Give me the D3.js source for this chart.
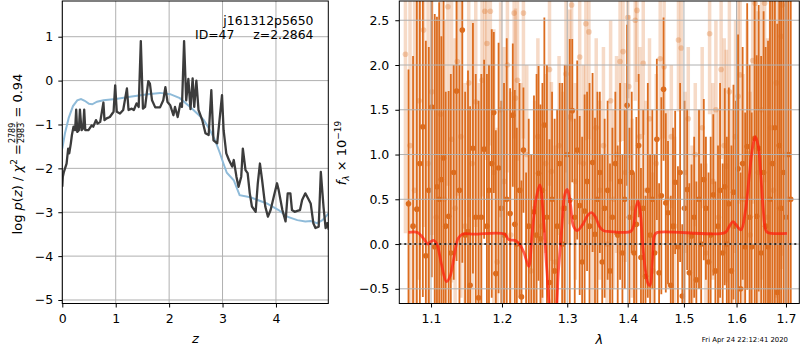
<!DOCTYPE html>
<html>
<head>
<meta charset="utf-8">
<script src="https://cdnjs.cloudflare.com/ajax/libs/d3/7.8.5/d3.min.js"></script>
<style>
  body { margin: 0; background: #fff; }
  svg { font-family: 'DejaVu Sans', sans-serif; }
</style>
</head>
<body>
<div id="chart"></div>
<script>
// ---- p(z) panel ----
var pzZ   = [0.0,0.01,0.03,0.08,0.11,0.13,0.16,0.18,0.21,0.24,0.26,0.28,0.31,0.33,0.36,0.39,0.41,0.43,0.49,0.55,0.58,0.63,0.66,0.71,0.77,0.79,0.83,0.89,0.96,0.99,1.02,1.08,1.14,1.21,1.24,1.30,1.34,1.39,1.43,1.47,1.51,1.55,1.61,1.64,1.68,1.74,1.83,1.89,1.93,1.97,2.02,2.08,2.11,2.16,2.21,2.24,2.28,2.32,2.36,2.40,2.44,2.47,2.51,2.55,2.62,2.68,2.74,2.79,2.83,2.90,2.99,3.02,3.07,3.12,3.18,3.21,3.26,3.30,3.35,3.38,3.43,3.47,3.51,3.55,3.62,3.66,3.70,3.74,3.80,3.85,3.90,3.96,4.02,4.05,4.12,4.18,4.22,4.27,4.30,4.35,4.40,4.45,4.49,4.55,4.60,4.65,4.70,4.74,4.80,4.84,4.89,4.93,4.96,4.99];
var pzLog = [-2.42,-2.19,-2.08,-1.89,-1.55,-1.66,-1.43,-1.24,-1.05,-1.13,-0.66,-1.17,-1.13,-0.66,-1.13,-1.09,-0.66,-1.13,-1.13,-1.02,-1.05,-0.9,-0.98,-0.94,-0.5,-0.9,-0.86,-0.83,-0.71,-0.11,-0.71,-0.75,-0.67,-0.18,-0.67,-0.64,-0.67,-0.52,-0.6,0.9,-0.64,-0.6,-0.01,-0.07,-0.45,-0.61,-0.61,-0.45,-0.15,-0.49,-0.56,-0.79,-0.6,-0.83,-0.52,-0.6,0.9,-0.45,0.04,-0.65,0.05,-0.6,0.0,-0.67,-0.9,-1.2,-1.24,-0.22,-1.36,-1.43,-0.33,-1.13,-1.66,-1.81,-1.96,-1.81,-2.19,-2.42,-2.19,-1.55,-2.04,-2.11,-2.57,-2.87,-2.99,-2.34,-1.89,-2.26,-2.87,-3.1,-2.95,-2.64,-2.34,-2.49,-2.95,-3.21,-2.57,-2.57,-2.95,-2.99,-2.97,-2.95,-2.72,-2.57,-2.68,-2.8,-3.25,-3.36,-3.33,-2.08,-2.87,-3.36,-3.25,-3.4];

var priorZ   = [0.0,0.05,0.12,0.2,0.28,0.35,0.42,0.5,0.56,0.65,0.77,1.0,1.3,1.6,1.83,2.02,2.2,2.4,2.55,2.65,2.76,2.86,2.95,3.02,3.08,3.21,3.32,3.52,3.83,4.05,4.21,4.4,4.55,4.65,4.77,4.87,4.96,4.99];
var priorLog = [-1.55,-1.2,-0.85,-0.58,-0.45,-0.42,-0.46,-0.53,-0.54,-0.48,-0.45,-0.42,-0.36,-0.31,-0.28,-0.31,-0.4,-0.61,-0.78,-0.9,-1.12,-1.36,-1.65,-1.9,-2.1,-2.27,-2.61,-2.66,-2.8,-2.95,-3.1,-3.18,-3.21,-3.2,-3.25,-3.18,-3.06,-3.02];

var zTicks = [0, 1, 2, 3, 4];
var logTicks = [-5, -4, -3, -2, -1, 0, 1];

// ---- spectrum panel ----
// [wavelength, flux, error]
var darkPoints = [
  [1.070,0.45,1.5],[1.076,0.20,1.9],[1.081,0.39,2.5],[1.085,0.9,1.9],[1.089,1.31,1.9],[1.093,-0.13,2.4],
  [1.097,0.6,1.6],[1.101,1.53,1.9],[1.105,-0.03,2.6],[1.108,0.64,1.9],[1.111,0.5,2.2],[1.114,0.72,1.6],
  [1.117,0.96,1.8],[1.120,0.2,1.5],[1.124,0.31,1.4],[1.127,-0.1,2.0],[1.131,0.8,1.2],[1.135,1.71,1.9],
  [1.139,0.6,1.4],[1.143,2.39,2.6],[1.147,0.1,1.6],[1.151,0.14,1.8],[1.154,-0.46,2.0],[1.158,1.07,1.4],
  [1.162,0.30,1.6],[1.166,-0.6,2.2],[1.170,0.3,1.6],[1.174,1.06,1.0],[1.178,0.2,1.7],[1.181,0.6,1.4],
  [1.185,0.90,1.5],[1.188,1.47,0.9],[1.191,-0.33,1.6],[1.195,0.85,1.4],[1.199,0.4,1.2],[1.203,0.1,1.7],
  [1.207,0.5,1.8],[1.212,0.34,1.4],[1.216,1.44,0.8],[1.219,0.22,1.5],[1.222,0.0,1.3],[1.226,0.6,1.2],
  [1.229,-0.59,1.3],[1.232,1.05,0.7],[1.236,-0.7,1.5],[1.240,0.2,1.2],[1.244,-0.7,1.7],[1.248,0.36,1.3],
  [1.252,0.1,1.8],[1.255,0.79,1.2],[1.258,0.06,1.5],[1.261,0.6,1.2],[1.264,1.33,1.2],[1.268,0.3,1.7],
  [1.272,-0.43,1.6],[1.276,0.5,1.2],[1.280,-0.3,1.7],[1.284,0.2,1.3],[1.288,0.9,0.9],[1.292,0.0,1.8],
  [1.296,0.4,1.6],[1.300,1.0,1.0],[1.304,0.49,1.8],[1.308,1.49,0.8],[1.312,0.3,1.1],[1.316,1.05,1.0],
  [1.320,0.43,1.0],[1.324,-0.2,1.4],[1.328,0.37,1.3],[1.332,0.7,1.0],[1.336,0.2,1.6],[1.341,0.91,1.0],
  [1.345,0.11,1.3],[1.349,0.5,1.2],[1.353,0.8,0.9],[1.357,-0.2,1.2],[1.361,0.4,1.0],[1.366,0.6,1.0],
  [1.370,-0.30,1.2],[1.374,0.3,1.0],[1.379,0.9,0.8],[1.383,0.1,1.0],[1.387,0.70,1.1],[1.391,-0.1,1.1],
  [1.395,0.5,1.0],[1.399,1.55,0.9],[1.403,0.3,1.0],[1.407,0.8,0.9],[1.411,-0.1,0.9],[1.415,0.22,1.2],
  [1.419,1.1,0.8],[1.423,-0.15,1.0],[1.427,0.4,1.1],[1.431,-0.36,0.9],[1.435,0.6,1.2],[1.439,0.1,0.9],
  [1.443,0.5,1.0],[1.447,-0.1,1.1],[1.451,1.17,0.9],[1.455,-0.32,1.0],[1.459,0.54,1.1],[1.463,1.73,0.8],
  [1.467,0.46,1.0],[1.471,0.35,0.8],[1.476,-0.46,1.0],[1.480,0.2,1.1],[1.484,0.69,0.8],[1.489,-0.03,0.9],
  [1.493,0.80,1.0],[1.497,-0.58,0.8],[1.501,0.4,1.2],[1.506,0.61,0.9],[1.510,-0.32,1.0],[1.514,0.09,0.8],
  [1.519,0.3,0.9],[1.523,-0.4,1.1],[1.528,0.5,1.0],[1.532,0.0,0.9],[1.537,0.72,0.9],[1.541,0.40,0.8],
  [1.546,-0.2,1.0],[1.550,0.1,1.1],[1.555,0.55,0.9],[1.559,-0.3,1.0],[1.564,0.2,0.9],[1.568,0.6,1.2],
  [1.573,-0.1,1.0],[1.577,0.64,1.1],[1.581,0.0,1.2],[1.585,0.45,1.3],[1.590,-0.3,1.4],[1.594,0.58,1.2],
  [1.599,0.2,1.4],[1.603,0.84,1.5],[1.608,-0.5,1.3],[1.612,0.9,1.3],[1.617,-0.03,1.5],[1.621,1.09,1.6],
  [1.626,0.3,1.7],[1.630,-0.03,1.5],[1.636,1.18,1.9],[1.640,0.31,1.8],[1.644,1.07,1.6],[1.649,-0.1,2.2],
  [1.654,0.80,1.8],[1.658,0.2,2.0],[1.663,-0.03,2.3],[1.667,0.5,2.5],[1.672,0.9,2.6],[1.677,1.30,2.4],
  [1.682,-0.54,3.0],[1.686,1.1,3.0],[1.690,0.4,3.5],[1.695,0.8,3.5],[1.700,0.3,3.6],[1.705,1.0,3.8],
  [1.710,0.5,4.0]
];

var lightPoints = [
  [1.066,2.12,2.0],[1.072,1.1,2.2],[1.078,0.6,2.4],[1.084,1.6,2.0],[1.090,2.39,2.2],[1.096,0.9,2.1],
  [1.101,1.7,1.6],[1.107,0.3,2.2],[1.113,1.45,1.8],[1.118,0.5,2.0],[1.123,2.65,2.0],[1.128,1.17,1.6],
  [1.133,0.4,1.9],[1.136,2.04,1.5],[1.141,1.2,1.8],[1.147,0.2,1.6],[1.152,1.80,1.5],[1.157,0.9,1.6],
  [1.162,1.59,1.4],[1.167,0.3,1.5],[1.171,1.83,1.3],[1.175,2.60,1.6],[1.178,2.24,1.3],[1.183,2.60,1.5],
  [1.188,0.8,1.6],[1.193,-0.2,1.5],[1.198,1.5,1.2],[1.203,0.7,1.5],[1.208,2.0,1.2],[1.213,0.1,1.6],
  [1.218,2.58,1.4],[1.220,1.63,1.0],[1.223,1.83,0.9],[1.228,0.6,1.2],[1.232,2.58,1.4],[1.237,1.0,1.0],
  [1.243,-0.3,1.3],[1.249,0.4,1.2],[1.254,1.2,1.1],[1.260,0.2,1.3],[1.266,0.9,1.0],[1.272,1.95,1.3],
  [1.275,0.81,1.0],[1.281,-0.2,1.3],[1.287,1.1,1.0],[1.293,0.4,1.3],[1.298,1.9,1.1],[1.304,1.42,1.2],
  [1.307,2.67,1.3],[1.313,0.7,1.1],[1.320,2.09,1.2],[1.326,0.9,1.1],[1.330,2.46,1.3],[1.335,2.37,1.2],
  [1.341,0.3,1.2],[1.347,1.3,1.0],[1.353,0.6,1.0],[1.359,1.1,1.1],[1.365,0.0,1.0],[1.371,1.6,0.9],
  [1.376,0.5,1.0],[1.381,1.0,1.1],[1.387,2.04,0.9],[1.392,2.15,1.0],[1.396,0.8,1.0],[1.400,2.53,0.9],
  [1.402,1.76,0.8],[1.408,0.4,1.0],[1.413,2.50,0.9],[1.416,2.61,0.8],[1.421,1.2,1.0],[1.427,2.02,0.8],
  [1.432,0.6,1.0],[1.438,1.4,0.9],[1.444,-0.3,1.1],[1.450,0.9,1.0],[1.457,2.07,0.9],[1.464,1.98,0.8],
  [1.470,0.5,1.0],[1.477,1.2,0.8],[1.483,0.2,1.0],[1.490,2.28,0.8],[1.495,2.19,0.7],[1.502,0.8,0.9],
  [1.508,1.4,0.8],[1.515,0.1,1.0],[1.521,1.0,0.8],[1.528,0.5,1.0],[1.534,1.3,0.9],[1.541,-0.1,1.0],
  [1.548,2.35,0.9],[1.554,0.7,1.1],[1.560,1.5,1.0],[1.565,0.3,1.2],[1.570,1.95,1.0],[1.576,1.1,1.2],
  [1.580,0.87,1.3],[1.586,1.7,1.1],[1.592,0.2,1.3],[1.598,1.2,1.3],[1.603,1.65,1.2],[1.607,1.89,1.4],
  [1.613,0.5,1.4],[1.621,1.01,1.5],[1.627,0.1,1.6],[1.632,2.05,1.6],[1.637,2.69,1.7],[1.643,0.8,1.8],
  [1.650,1.5,1.9],[1.656,2.69,2.0],[1.662,0.3,2.0],[1.668,1.3,2.2],[1.674,0.6,2.3],[1.680,1.8,2.4],
  [1.686,0.4,2.6],[1.690,2.32,2.6],[1.692,2.67,2.8],[1.698,1.0,3.0],[1.704,0.5,3.2]
];

var modelWave = [1.070,1.082,1.090,1.096,1.100,1.104,1.108,1.114,1.121,1.126,1.132,1.137,1.143,1.160,1.204,1.210,1.220,1.226,1.233,1.240,1.245,1.251,1.257,1.263,1.268,1.274,1.280,1.286,1.292,1.296,1.300,1.305,1.310,1.316,1.325,1.333,1.339,1.346,1.352,1.359,1.370,1.405,1.410,1.414,1.418,1.422,1.426,1.431,1.436,1.439,1.443,1.447,1.452,1.578,1.586,1.593,1.601,1.609,1.617,1.625,1.631,1.637,1.643,1.648,1.653,1.658,1.662,1.702];
var modelFlux = [0.13,0.13,0.06,0.0,0.03,0.04,0.0,-0.22,-0.42,-0.36,-0.12,0.06,0.11,0.11,0.11,0.05,0.04,0.0,-0.1,-0.25,0.1,0.5,0.66,0.25,-0.3,-0.75,-0.8,-0.3,0.25,0.55,0.61,0.45,0.2,0.15,0.22,0.32,0.35,0.3,0.2,0.15,0.14,0.14,0.2,0.4,0.48,0.35,0.0,-0.3,-0.45,-0.46,-0.2,0.1,0.13,0.13,0.2,0.25,0.2,0.16,0.35,0.75,1.05,1.2,1.1,0.8,0.4,0.16,0.13,0.12];

var waveTicks = [1.1, 1.2, 1.3, 1.4, 1.5, 1.6, 1.7];
var fluxTicks = [-0.5, 0.0, 0.5, 1.0, 1.5, 2.0, 2.5];

var W = 800, H = 350;
var svg = d3.select('#chart').append('svg').attr('width', W).attr('height', H);

var L = {x0: 62.3, x1: 328.3, y0: 1, y1: 303.5};
var R = {x0: 399.3, x1: 799.3, y0: 1, y1: 303.5};

var xz = d3.scaleLinear().domain([0, 4.98]).range([L.x0, L.x1]);
var yz = d3.scaleLinear().domain([-5.08, 1.814]).range([L.y1, L.y0]);
var xw = d3.scaleLog().domain([1.058, 1.728]).range([R.x0, R.x1]);
var yf = d3.scaleLinear().domain([-0.664, 2.715]).range([R.y1, R.y0]);

var defs = svg.append('defs');
defs.append('clipPath').attr('id', 'clipL').append('rect')
  .attr('x', L.x0).attr('y', L.y0).attr('width', L.x1 - L.x0).attr('height', L.y1 - L.y0);
defs.append('clipPath').attr('id', 'clipR').append('rect')
  .attr('x', R.x0).attr('y', R.y0).attr('width', R.x1 - R.x0).attr('height', R.y1 - R.y0);

var gridColor = '#b0b0b0';
function grid(g, xs, ys, xt, yt, box) {
  g.selectAll('line.gx').data(xt).enter().append('line')
    .attr('x1', d => xs(d)).attr('x2', d => xs(d)).attr('y1', box.y0).attr('y2', box.y1)
    .attr('stroke', gridColor).attr('stroke-width', 1);
  g.selectAll('line.gy').data(yt).enter().append('line')
    .attr('y1', d => ys(d)).attr('y2', d => ys(d)).attr('x1', box.x0).attr('x2', box.x1)
    .attr('stroke', gridColor).attr('stroke-width', 1);
}

// ---------- left panel ----------
var gL = svg.append('g');
grid(gL.append('g'), xz, yz, zTicks, logTicks, L);

var lineZ = d3.line().x(d => xz(d[0])).y(d => yz(d[1]));
var plotL = gL.append('g').attr('clip-path', 'url(#clipL)');
plotL.append('path').datum(d3.zip(priorZ, priorLog)).attr('d', lineZ)
  .attr('fill', 'none').attr('stroke', '#8fbbd9').attr('stroke-width', 2);
plotL.append('path').datum(d3.zip(pzZ, pzLog)).attr('d', lineZ)
  .attr('fill', 'none').attr('stroke', '#3c3c3c').attr('stroke-width', 2.3).attr('stroke-linejoin', 'round');

gL.append('g').attr('transform', 'translate(0,' + L.y1 + ')')
  .call(d3.axisBottom(xz).tickValues(zTicks).tickSize(4).tickPadding(7).tickFormat(d3.format('d')));
gL.append('g').attr('transform', 'translate(' + L.x0 + ',0)')
  .call(d3.axisLeft(yz).tickValues(logTicks).tickSize(4).tickPadding(5).tickFormat(d3.format('d')));

gL.append('rect').attr('x', L.x0).attr('y', L.y0).attr('width', L.x1 - L.x0).attr('height', L.y1 - L.y0)
  .attr('fill', 'none').attr('stroke', '#000').attr('stroke-width', 1);

gL.append('text').attr('x', 313.5).attr('y', 25).attr('text-anchor', 'end')
  .attr('font-size', 12.4).text('j161312p5650');
gL.append('text').attr('x', 195).attr('y', 39).attr('font-size', 12.4).text('ID=47');
gL.append('text').attr('x', 313.5).attr('y', 39).attr('text-anchor', 'end')
  .attr('font-size', 12.4).text('z=2.2864');

gL.append('text').attr('x', (L.x0 + L.x1) / 2).attr('y', 343).attr('text-anchor', 'middle')
  .attr('font-size', 13).attr('font-style', 'italic').text('z');

// y label with a small fraction
var yl = svg.append('g').attr('transform', 'translate(22,154) rotate(-90)');
var t1 = yl.append('text').attr('font-size', 13);
t1.append('tspan').text('log ');
t1.append('tspan').attr('font-style', 'italic').text('p');
t1.append('tspan').text('(');
t1.append('tspan').attr('font-style', 'italic').text('z');
t1.append('tspan').text(') / ');
t1.append('tspan').attr('font-style', 'italic').text('χ');
t1.append('tspan').attr('font-size', 9).attr('dy', -5).text('2');
t1.append('tspan').attr('dy', 5).text(' = ');
var w1 = t1.node().getComputedTextLength();
var num = yl.append('text').attr('font-size', 8).attr('text-anchor', 'middle').attr('y', -7).text('2789');
var den = yl.append('text').attr('font-size', 8).attr('text-anchor', 'middle').attr('y', 1.8).text('2983');
var wf = Math.max(num.node().getComputedTextLength(), den.node().getComputedTextLength()) + 2;
num.attr('x', w1 + wf / 2);
den.attr('x', w1 + wf / 2);
yl.append('line').attr('x1', w1).attr('x2', w1 + wf).attr('y1', -5).attr('y2', -5)
  .attr('stroke', '#000').attr('stroke-width', 0.7);
var t3 = yl.append('text').attr('font-size', 13).attr('x', w1 + wf).text(' = 0.94');
t3.attr('xml:space', 'preserve');
var total = w1 + wf + t3.node().getComputedTextLength();
yl.selectAll('text, line').attr('transform', 'translate(' + (-total / 2) + ',0)');

// ---------- right panel ----------
var gR = svg.append('g');
var plotR = gR.append('g').attr('clip-path', 'url(#clipR)');
var orange = '#dc6c1e';

plotR.selectAll('line.lbar').data(lightPoints).enter().append('line')
  .attr('x1', d => xw(d[0])).attr('x2', d => xw(d[0]))
  .attr('y1', d => yf(d[1] - d[2])).attr('y2', d => yf(d[1] + d[2]))
  .attr('stroke', orange).attr('stroke-opacity', 0.25).attr('stroke-width', 3.5);
plotR.selectAll('circle.lpt').data(lightPoints).enter().append('circle')
  .attr('cx', d => xw(d[0])).attr('cy', d => yf(d[1])).attr('r', 2.8)
  .attr('fill', orange).attr('fill-opacity', 0.3);

plotR.selectAll('line.dbar').data(darkPoints).enter().append('line')
  .attr('x1', d => xw(d[0])).attr('x2', d => xw(d[0]))
  .attr('y1', d => yf(d[1] - d[2])).attr('y2', d => yf(d[1] + d[2]))
  .attr('stroke', orange).attr('stroke-width', 1.8);
plotR.selectAll('circle.dpt').data(darkPoints).enter().append('circle')
  .attr('cx', d => xw(d[0])).attr('cy', d => yf(d[1])).attr('r', 2.8)
  .attr('fill', orange);

grid(gR.append('g'), xw, yf, waveTicks, fluxTicks, R);

var plotR2 = gR.append('g').attr('clip-path', 'url(#clipR)');
plotR2.append('path').datum(d3.zip(modelWave, modelFlux))
  .attr('d', d3.line().x(d => xw(d[0])).y(d => yf(d[1])).curve(d3.curveCatmullRom.alpha(0.5)))
  .attr('fill', 'none').attr('stroke', '#ff1a0a').attr('stroke-opacity', 0.7).attr('stroke-width', 2.8);
plotR2.append('line').attr('x1', R.x0).attr('x2', R.x1).attr('y1', yf(0)).attr('y2', yf(0))
  .attr('stroke', '#000').attr('stroke-width', 1.6).attr('stroke-dasharray', '2,3');

gR.append('g').attr('transform', 'translate(0,' + R.y1 + ')')
  .call(d3.axisBottom(xw).tickValues(waveTicks).tickSize(4).tickPadding(7).tickFormat(d3.format('.1f')));
gR.append('g').attr('transform', 'translate(' + R.x0 + ',0)')
  .call(d3.axisLeft(yf).tickValues(fluxTicks).tickSize(4).tickPadding(6).tickFormat(d3.format('.1f')));

gR.append('rect').attr('x', R.x0).attr('y', R.y0).attr('width', R.x1 - R.x0).attr('height', R.y1 - R.y0)
  .attr('fill', 'none').attr('stroke', '#000').attr('stroke-width', 1);

gR.append('text').attr('x', (R.x0 + R.x1) / 2).attr('y', 344).attr('text-anchor', 'middle')
  .attr('font-size', 13).attr('font-style', 'italic').text('λ');

var yr = svg.append('text').attr('transform', 'translate(346,153) rotate(-90)')
  .attr('text-anchor', 'middle').attr('font-size', 13);
yr.append('tspan').attr('font-style', 'italic').text('f');
yr.append('tspan').attr('font-style', 'italic').attr('font-size', 9).attr('dy', 3).text('λ');
yr.append('tspan').attr('dy', -3).text(' × 10');
yr.append('tspan').attr('font-size', 9).attr('dy', -5).text('−19');

svg.append('text').attr('x', 788).attr('y', 342).attr('text-anchor', 'end')
  .attr('font-size', 6.9).text('Fri Apr 24 22:12:41 2020');

// axis text styling
svg.selectAll('.tick text').attr('font-size', 12.5).attr('fill', '#000').attr('font-family', 'DejaVu Sans, sans-serif');
svg.selectAll('.tick line').attr('stroke', '#000');
svg.selectAll('.domain').remove();
</script>
</body>
</html>
